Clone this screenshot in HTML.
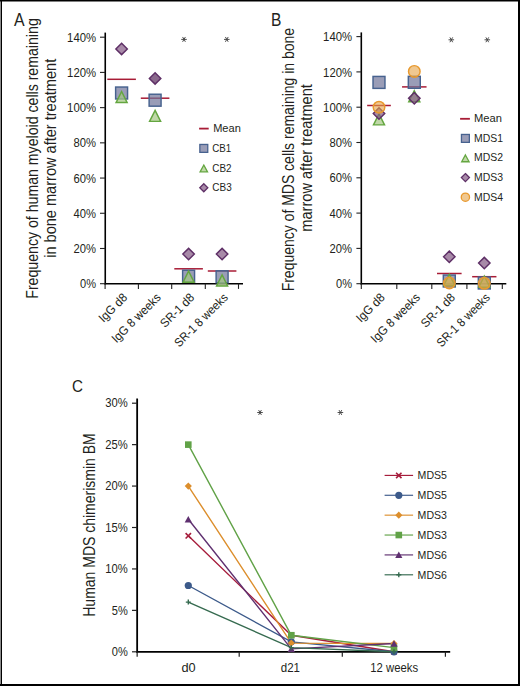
<!DOCTYPE html>
<html><head><meta charset="utf-8"><style>
html,body{margin:0;padding:0;background:#fff;}
body{width:520px;height:686px;overflow:hidden;position:relative;}
svg{position:absolute;left:0;top:0;}
text{font-family:"Liberation Sans", sans-serif;fill:#231f20;}
</style></head><body>
<svg width="520" height="686" viewBox="0 0 520 686">
<rect x="0" y="0" width="520" height="686" fill="#fff"/>
<line x1="105.25" y1="32.60" x2="105.25" y2="284.50" stroke="#000" stroke-width="1.6"/>
<line x1="104.45" y1="283.70" x2="243.00" y2="283.70" stroke="#000" stroke-width="1.6"/>
<line x1="100.00" y1="283.70" x2="105.25" y2="283.70" stroke="#222" stroke-width="1.1"/>
<text x="96.10" y="288.30" font-size="12.2" text-anchor="end"  textLength="16.0" lengthAdjust="spacingAndGlyphs">0%</text>
<line x1="100.00" y1="248.49" x2="105.25" y2="248.49" stroke="#222" stroke-width="1.1"/>
<text x="96.10" y="253.09" font-size="12.2" text-anchor="end"  textLength="22.5" lengthAdjust="spacingAndGlyphs">20%</text>
<line x1="100.00" y1="213.27" x2="105.25" y2="213.27" stroke="#222" stroke-width="1.1"/>
<text x="96.10" y="217.87" font-size="12.2" text-anchor="end"  textLength="22.5" lengthAdjust="spacingAndGlyphs">40%</text>
<line x1="100.00" y1="178.06" x2="105.25" y2="178.06" stroke="#222" stroke-width="1.1"/>
<text x="96.10" y="182.66" font-size="12.2" text-anchor="end"  textLength="22.5" lengthAdjust="spacingAndGlyphs">60%</text>
<line x1="100.00" y1="142.84" x2="105.25" y2="142.84" stroke="#222" stroke-width="1.1"/>
<text x="96.10" y="147.44" font-size="12.2" text-anchor="end"  textLength="22.5" lengthAdjust="spacingAndGlyphs">80%</text>
<line x1="100.00" y1="107.63" x2="105.25" y2="107.63" stroke="#222" stroke-width="1.1"/>
<text x="96.10" y="112.23" font-size="12.2" text-anchor="end"  textLength="29.0" lengthAdjust="spacingAndGlyphs">100%</text>
<line x1="100.00" y1="72.41" x2="105.25" y2="72.41" stroke="#222" stroke-width="1.1"/>
<text x="96.10" y="77.01" font-size="12.2" text-anchor="end"  textLength="29.0" lengthAdjust="spacingAndGlyphs">120%</text>
<line x1="100.00" y1="37.20" x2="105.25" y2="37.20" stroke="#222" stroke-width="1.1"/>
<text x="96.10" y="41.80" font-size="12.2" text-anchor="end"  textLength="29.0" lengthAdjust="spacingAndGlyphs">140%</text>
<line x1="105.10" y1="283.70" x2="105.10" y2="288.90" stroke="#222" stroke-width="1.1"/>
<line x1="138.40" y1="283.70" x2="138.40" y2="288.90" stroke="#222" stroke-width="1.1"/>
<line x1="171.70" y1="283.70" x2="171.70" y2="288.90" stroke="#222" stroke-width="1.1"/>
<line x1="205.30" y1="283.70" x2="205.30" y2="288.90" stroke="#222" stroke-width="1.1"/>
<line x1="238.50" y1="283.70" x2="238.50" y2="288.90" stroke="#222" stroke-width="1.1"/>
<text x="14.00" y="25.80" font-size="17.5" text-anchor="start"  textLength="10.6" lengthAdjust="spacingAndGlyphs">A</text>
<path d="M181.60 39.40 L186.40 39.40 M182.80 37.32 L185.20 41.48 M185.20 37.32 L182.80 41.48 " stroke="#444" stroke-width="0.95" stroke-linecap="round"/>
<path d="M224.40 39.40 L229.20 39.40 M225.60 37.32 L228.00 41.48 M228.00 37.32 L225.60 41.48 " stroke="#444" stroke-width="0.95" stroke-linecap="round"/>
<line x1="107.30" y1="79.30" x2="135.90" y2="79.30" stroke="#a81c36" stroke-width="1.5"/>
<rect x="115.62" y="87.03" width="11.95" height="11.95" fill="#6f7399" fill-opacity="0.7" stroke="#47628f" stroke-width="1.45"/>
<path d="M121.60 91.52 L127.13 102.58 L116.07 102.58 Z" fill="#a5c783" fill-opacity="0.7" stroke="#64a640" stroke-width="1.45" stroke-linejoin="miter"/>
<path d="M121.60 43.17 L127.33 48.90 L121.60 54.63 L115.87 48.90 Z" fill="#835883" fill-opacity="0.7" stroke="#5e2f66" stroke-width="1.45"/>
<line x1="140.80" y1="98.20" x2="169.40" y2="98.20" stroke="#a81c36" stroke-width="1.5"/>
<rect x="149.12" y="94.23" width="11.95" height="11.95" fill="#6f7399" fill-opacity="0.7" stroke="#47628f" stroke-width="1.45"/>
<path d="M155.10 110.32 L160.63 121.38 L149.57 121.38 Z" fill="#a5c783" fill-opacity="0.7" stroke="#64a640" stroke-width="1.45" stroke-linejoin="miter"/>
<path d="M155.10 72.67 L160.83 78.40 L155.10 84.13 L149.37 78.40 Z" fill="#582a5b" fill-opacity="0.7" stroke="#5e2f66" stroke-width="1.45"/>
<line x1="174.30" y1="268.80" x2="202.90" y2="268.80" stroke="#a81c36" stroke-width="1.5"/>
<rect x="182.62" y="270.22" width="11.95" height="11.95" fill="#6f7399" fill-opacity="0.7" stroke="#47628f" stroke-width="1.45"/>
<path d="M188.60 271.12 L194.13 282.17 L183.07 282.17 Z" fill="#a5c783" fill-opacity="0.7" stroke="#64a640" stroke-width="1.45" stroke-linejoin="miter"/>
<path d="M188.60 248.37 L194.33 254.10 L188.60 259.83 L182.87 254.10 Z" fill="#835883" fill-opacity="0.7" stroke="#5e2f66" stroke-width="1.45"/>
<line x1="207.80" y1="271.00" x2="236.40" y2="271.00" stroke="#a81c36" stroke-width="1.5"/>
<rect x="216.12" y="270.82" width="11.95" height="11.95" fill="#6f7399" fill-opacity="0.7" stroke="#47628f" stroke-width="1.45"/>
<path d="M222.10 274.92 L227.63 285.97 L216.57 285.97 Z" fill="#a5c783" fill-opacity="0.7" stroke="#64a640" stroke-width="1.45" stroke-linejoin="miter"/>
<path d="M222.10 248.37 L227.83 254.10 L222.10 259.83 L216.37 254.10 Z" fill="#835883" fill-opacity="0.7" stroke="#5e2f66" stroke-width="1.45"/>
<line x1="199.10" y1="128.60" x2="208.70" y2="128.60" stroke="#a81c36" stroke-width="1.8"/>
<text x="213.20" y="132.10" font-size="11.6" text-anchor="start"  textLength="27.6" lengthAdjust="spacingAndGlyphs">Mean</text>
<rect x="199.85" y="144.45" width="7.90" height="7.90" fill="#6f7399" fill-opacity="0.7" stroke="#47628f" stroke-width="1.3"/>
<text x="212.30" y="151.80" font-size="11.6" text-anchor="start"  textLength="19.0" lengthAdjust="spacingAndGlyphs">CB1</text>
<path d="M203.80 165.06 L207.51 171.85 L200.09 171.85 Z" fill="#a5c783" fill-opacity="0.7" stroke="#64a640" stroke-width="1.3" stroke-linejoin="miter"/>
<text x="212.30" y="171.60" font-size="11.6" text-anchor="start"  textLength="19.2" lengthAdjust="spacingAndGlyphs">CB2</text>
<path d="M203.80 183.68 L207.82 187.70 L203.80 191.72 L199.78 187.70 Z" fill="#835883" fill-opacity="0.7" stroke="#5e2f66" stroke-width="1.3"/>
<text x="212.30" y="191.30" font-size="11.6" text-anchor="start"  textLength="19.4" lengthAdjust="spacingAndGlyphs">CB3</text>
<text transform="translate(38.2 158.5) rotate(-90)" font-size="15.6" text-anchor="middle" textLength="280.5" lengthAdjust="spacingAndGlyphs">Frequency of human myeloid cells remaining</text>
<text transform="translate(55.7 158.3) rotate(-90)" font-size="15.6" text-anchor="middle" textLength="199" lengthAdjust="spacingAndGlyphs">in bone marrow after treatment</text>
<text transform="translate(128.10 298.3) rotate(-45)" font-size="12.2" text-anchor="end" textLength="34.8" lengthAdjust="spacingAndGlyphs">IgG d8</text>
<text transform="translate(161.60 298.3) rotate(-45)" font-size="12.2" text-anchor="end" textLength="63.9" lengthAdjust="spacingAndGlyphs">IgG 8 weeks</text>
<text transform="translate(195.10 298.3) rotate(-45)" font-size="12.2" text-anchor="end" textLength="42.4" lengthAdjust="spacingAndGlyphs">SR-1 d8</text>
<text transform="translate(228.60 298.3) rotate(-45)" font-size="12.2" text-anchor="end" textLength="69.8" lengthAdjust="spacingAndGlyphs">SR-1 8 weeks</text>
<line x1="361.30" y1="32.40" x2="361.30" y2="284.50" stroke="#000" stroke-width="1.6"/>
<line x1="360.50" y1="283.70" x2="506.30" y2="283.70" stroke="#000" stroke-width="1.6"/>
<line x1="356.40" y1="283.70" x2="361.30" y2="283.70" stroke="#222" stroke-width="1.1"/>
<text x="352.10" y="288.30" font-size="12.2" text-anchor="end"  textLength="16.0" lengthAdjust="spacingAndGlyphs">0%</text>
<line x1="356.40" y1="248.40" x2="361.30" y2="248.40" stroke="#222" stroke-width="1.1"/>
<text x="352.10" y="253.00" font-size="12.2" text-anchor="end"  textLength="22.5" lengthAdjust="spacingAndGlyphs">20%</text>
<line x1="356.40" y1="213.10" x2="361.30" y2="213.10" stroke="#222" stroke-width="1.1"/>
<text x="352.10" y="217.70" font-size="12.2" text-anchor="end"  textLength="22.5" lengthAdjust="spacingAndGlyphs">40%</text>
<line x1="356.40" y1="177.80" x2="361.30" y2="177.80" stroke="#222" stroke-width="1.1"/>
<text x="352.10" y="182.40" font-size="12.2" text-anchor="end"  textLength="22.5" lengthAdjust="spacingAndGlyphs">60%</text>
<line x1="356.40" y1="142.50" x2="361.30" y2="142.50" stroke="#222" stroke-width="1.1"/>
<text x="352.10" y="147.10" font-size="12.2" text-anchor="end"  textLength="22.5" lengthAdjust="spacingAndGlyphs">80%</text>
<line x1="356.40" y1="107.20" x2="361.30" y2="107.20" stroke="#222" stroke-width="1.1"/>
<text x="352.10" y="111.80" font-size="12.2" text-anchor="end"  textLength="29.0" lengthAdjust="spacingAndGlyphs">100%</text>
<line x1="356.40" y1="71.90" x2="361.30" y2="71.90" stroke="#222" stroke-width="1.1"/>
<text x="352.10" y="76.50" font-size="12.2" text-anchor="end"  textLength="29.0" lengthAdjust="spacingAndGlyphs">120%</text>
<line x1="356.40" y1="36.60" x2="361.30" y2="36.60" stroke="#222" stroke-width="1.1"/>
<text x="352.10" y="41.20" font-size="12.2" text-anchor="end"  textLength="29.0" lengthAdjust="spacingAndGlyphs">140%</text>
<line x1="361.30" y1="283.70" x2="361.30" y2="288.90" stroke="#222" stroke-width="1.1"/>
<line x1="396.80" y1="283.70" x2="396.80" y2="288.90" stroke="#222" stroke-width="1.1"/>
<line x1="431.80" y1="283.70" x2="431.80" y2="288.90" stroke="#222" stroke-width="1.1"/>
<line x1="466.90" y1="283.70" x2="466.90" y2="288.90" stroke="#222" stroke-width="1.1"/>
<line x1="502.30" y1="283.70" x2="502.30" y2="288.90" stroke="#222" stroke-width="1.1"/>
<text x="271.00" y="25.90" font-size="17.5" text-anchor="start"  textLength="10.4" lengthAdjust="spacingAndGlyphs">B</text>
<path d="M448.90 39.80 L453.70 39.80 M450.10 37.72 L452.50 41.88 M452.50 37.72 L450.10 41.88 " stroke="#444" stroke-width="0.95" stroke-linecap="round"/>
<path d="M484.90 39.80 L489.70 39.80 M486.10 37.72 L488.50 41.88 M488.50 37.72 L486.10 41.88 " stroke="#444" stroke-width="0.95" stroke-linecap="round"/>
<line x1="367.15" y1="105.50" x2="390.85" y2="105.50" stroke="#a81c36" stroke-width="1.5"/>
<rect x="373.02" y="76.43" width="11.95" height="11.95" fill="#6f7399" fill-opacity="0.7" stroke="#47628f" stroke-width="1.45"/>
<path d="M379.00 113.82 L384.53 124.88 L373.47 124.88 Z" fill="#a5c783" fill-opacity="0.7" stroke="#64a640" stroke-width="1.45" stroke-linejoin="miter"/>
<path d="M379.00 107.77 L384.73 113.50 L379.00 119.23 L373.27 113.50 Z" fill="#835883" fill-opacity="0.7" stroke="#5e2f66" stroke-width="1.45"/>
<circle cx="379.00" cy="107.20" r="5.78" fill="#e6a346" fill-opacity="0.6" stroke="#e8992e" stroke-width="1.45"/>
<line x1="402.05" y1="86.90" x2="426.55" y2="86.90" stroke="#a81c36" stroke-width="1.5"/>
<rect x="408.32" y="76.33" width="11.95" height="11.95" fill="#6f7399" fill-opacity="0.7" stroke="#47628f" stroke-width="1.45"/>
<path d="M414.30 90.72 L419.83 101.78 L408.77 101.78 Z" fill="#a5c783" fill-opacity="0.7" stroke="#64a640" stroke-width="1.45" stroke-linejoin="miter"/>
<path d="M414.30 92.47 L420.03 98.20 L414.30 103.93 L408.57 98.20 Z" fill="#835883" fill-opacity="0.7" stroke="#5e2f66" stroke-width="1.45"/>
<circle cx="414.30" cy="71.40" r="5.78" fill="#e6a346" fill-opacity="0.6" stroke="#e8992e" stroke-width="1.45"/>
<line x1="437.00" y1="273.50" x2="461.60" y2="273.50" stroke="#a81c36" stroke-width="1.5"/>
<rect x="443.32" y="275.02" width="11.95" height="11.95" fill="#6f7399" fill-opacity="0.7" stroke="#47628f" stroke-width="1.45"/>
<path d="M449.30 274.42 L454.83 285.47 L443.77 285.47 Z" fill="#a5c783" fill-opacity="0.7" stroke="#64a640" stroke-width="1.45" stroke-linejoin="miter"/>
<path d="M449.30 251.07 L455.03 256.80 L449.30 262.53 L443.57 256.80 Z" fill="#835883" fill-opacity="0.7" stroke="#5e2f66" stroke-width="1.45"/>
<circle cx="449.30" cy="283.00" r="5.78" fill="#e6a346" fill-opacity="0.6" stroke="#e8992e" stroke-width="1.45"/>
<line x1="472.15" y1="276.70" x2="496.45" y2="276.70" stroke="#a81c36" stroke-width="1.5"/>
<rect x="478.32" y="277.02" width="11.95" height="11.95" fill="#6f7399" fill-opacity="0.7" stroke="#47628f" stroke-width="1.45"/>
<path d="M484.30 276.12 L489.83 287.17 L478.77 287.17 Z" fill="#a5c783" fill-opacity="0.7" stroke="#64a640" stroke-width="1.45" stroke-linejoin="miter"/>
<path d="M484.30 257.37 L490.03 263.10 L484.30 268.83 L478.57 263.10 Z" fill="#835883" fill-opacity="0.7" stroke="#5e2f66" stroke-width="1.45"/>
<circle cx="484.30" cy="283.30" r="5.78" fill="#e6a346" fill-opacity="0.6" stroke="#e8992e" stroke-width="1.45"/>
<line x1="460.10" y1="118.80" x2="469.90" y2="118.80" stroke="#a81c36" stroke-width="1.8"/>
<text x="474.00" y="122.00" font-size="11.6" text-anchor="start"  textLength="27.9" lengthAdjust="spacingAndGlyphs">Mean</text>
<rect x="461.45" y="134.45" width="7.90" height="7.90" fill="#6f7399" fill-opacity="0.7" stroke="#47628f" stroke-width="1.3"/>
<text x="474.00" y="141.80" font-size="11.6" text-anchor="start"  textLength="29.0" lengthAdjust="spacingAndGlyphs">MDS1</text>
<path d="M465.40 154.96 L469.11 161.75 L461.69 161.75 Z" fill="#a5c783" fill-opacity="0.7" stroke="#64a640" stroke-width="1.3" stroke-linejoin="miter"/>
<text x="474.00" y="161.40" font-size="11.6" text-anchor="start"  textLength="29.0" lengthAdjust="spacingAndGlyphs">MDS2</text>
<path d="M465.40 173.58 L469.42 177.60 L465.40 181.62 L461.38 177.60 Z" fill="#835883" fill-opacity="0.7" stroke="#5e2f66" stroke-width="1.3"/>
<text x="474.00" y="181.00" font-size="11.6" text-anchor="start"  textLength="29.0" lengthAdjust="spacingAndGlyphs">MDS3</text>
<circle cx="465.40" cy="197.20" r="4.15" fill="#e6a346" fill-opacity="0.6" stroke="#e8992e" stroke-width="1.3"/>
<text x="474.00" y="200.60" font-size="11.6" text-anchor="start"  textLength="29.0" lengthAdjust="spacingAndGlyphs">MDS4</text>
<text transform="translate(293.9 159.6) rotate(-90)" font-size="15.6" text-anchor="middle" textLength="263.5" lengthAdjust="spacingAndGlyphs">Frequency of MDS cells remaining in bone</text>
<text transform="translate(312.1 157.9) rotate(-90)" font-size="15.6" text-anchor="middle" textLength="147.5" lengthAdjust="spacingAndGlyphs">marrow after treatment</text>
<text transform="translate(385.50 298.3) rotate(-45)" font-size="12.2" text-anchor="end" textLength="34.8" lengthAdjust="spacingAndGlyphs">IgG d8</text>
<text transform="translate(420.80 298.3) rotate(-45)" font-size="12.2" text-anchor="end" textLength="63.9" lengthAdjust="spacingAndGlyphs">IgG 8 weeks</text>
<text transform="translate(455.80 298.3) rotate(-45)" font-size="12.2" text-anchor="end" textLength="42.4" lengthAdjust="spacingAndGlyphs">SR-1 d8</text>
<text transform="translate(490.80 298.3) rotate(-45)" font-size="12.2" text-anchor="end" textLength="69.8" lengthAdjust="spacingAndGlyphs">SR-1 8 weeks</text>
<line x1="137.15" y1="398.50" x2="137.15" y2="652.70" stroke="#000" stroke-width="1.8"/>
<line x1="136.25" y1="651.80" x2="450.20" y2="651.80" stroke="#000" stroke-width="1.8"/>
<line x1="132.00" y1="651.80" x2="137.15" y2="651.80" stroke="#222" stroke-width="1.2"/>
<text x="127.80" y="656.00" font-size="12.2" text-anchor="end"  textLength="16.0" lengthAdjust="spacingAndGlyphs">0%</text>
<line x1="132.00" y1="610.37" x2="137.15" y2="610.37" stroke="#222" stroke-width="1.2"/>
<text x="127.80" y="614.57" font-size="12.2" text-anchor="end"  textLength="16.0" lengthAdjust="spacingAndGlyphs">5%</text>
<line x1="132.00" y1="568.93" x2="137.15" y2="568.93" stroke="#222" stroke-width="1.2"/>
<text x="127.80" y="573.13" font-size="12.2" text-anchor="end"  textLength="22.5" lengthAdjust="spacingAndGlyphs">10%</text>
<line x1="132.00" y1="527.50" x2="137.15" y2="527.50" stroke="#222" stroke-width="1.2"/>
<text x="127.80" y="531.70" font-size="12.2" text-anchor="end"  textLength="22.5" lengthAdjust="spacingAndGlyphs">15%</text>
<line x1="132.00" y1="486.07" x2="137.15" y2="486.07" stroke="#222" stroke-width="1.2"/>
<text x="127.80" y="490.27" font-size="12.2" text-anchor="end"  textLength="22.5" lengthAdjust="spacingAndGlyphs">20%</text>
<line x1="132.00" y1="444.63" x2="137.15" y2="444.63" stroke="#222" stroke-width="1.2"/>
<text x="127.80" y="448.83" font-size="12.2" text-anchor="end"  textLength="22.5" lengthAdjust="spacingAndGlyphs">25%</text>
<line x1="132.00" y1="403.20" x2="137.15" y2="403.20" stroke="#222" stroke-width="1.2"/>
<text x="127.80" y="407.40" font-size="12.2" text-anchor="end"  textLength="22.5" lengthAdjust="spacingAndGlyphs">30%</text>
<line x1="137.15" y1="651.80" x2="137.15" y2="656.80" stroke="#222" stroke-width="1.2"/>
<line x1="239.20" y1="651.80" x2="239.20" y2="656.80" stroke="#222" stroke-width="1.2"/>
<line x1="342.30" y1="651.80" x2="342.30" y2="656.80" stroke="#222" stroke-width="1.2"/>
<line x1="445.40" y1="651.80" x2="445.40" y2="656.80" stroke="#222" stroke-width="1.2"/>
<text x="72.00" y="391.80" font-size="17.0" text-anchor="start"  textLength="11.0" lengthAdjust="spacingAndGlyphs">C</text>
<path d="M257.60 412.50 L262.40 412.50 M258.80 410.42 L261.20 414.58 M261.20 410.42 L258.80 414.58 " stroke="#444" stroke-width="0.95" stroke-linecap="round"/>
<path d="M338.00 412.50 L342.80 412.50 M339.20 410.42 L341.60 414.58 M341.60 410.42 L339.20 414.58 " stroke="#444" stroke-width="0.95" stroke-linecap="round"/>
<text x="188.50" y="672.00" font-size="12.3" text-anchor="middle"  textLength="14.2" lengthAdjust="spacingAndGlyphs">d0</text>
<text x="290.40" y="672.00" font-size="12.3" text-anchor="middle"  textLength="19.2" lengthAdjust="spacingAndGlyphs">d21</text>
<text x="394.20" y="672.00" font-size="12.3" text-anchor="middle"  textLength="47.8" lengthAdjust="spacingAndGlyphs">12 weeks</text>
<text transform="translate(95 525) rotate(-90)" font-size="15.6" text-anchor="middle" textLength="183.5" lengthAdjust="spacingAndGlyphs">Human MDS chimerismin BM</text>
<polyline points="188.30,535.79 291.30,635.23 394.00,651.80" fill="none" stroke="#a61d3c" stroke-width="1.4"/>
<polyline points="188.30,585.51 291.30,641.86 394.00,651.80" fill="none" stroke="#3c5a8a" stroke-width="1.4"/>
<polyline points="188.30,486.07 291.30,643.10 394.00,643.51" fill="none" stroke="#dc8e2c" stroke-width="1.4"/>
<polyline points="188.30,444.63 291.30,635.23 394.00,647.66" fill="none" stroke="#61a247" stroke-width="1.4"/>
<polyline points="188.30,519.21 291.30,648.90 394.00,643.51" fill="none" stroke="#5f3070" stroke-width="1.4"/>
<polyline points="188.30,602.08 291.30,647.66 394.00,651.80" fill="none" stroke="#356a4f" stroke-width="1.4"/>
<path d="M185.60 533.09 L191.00 538.49 M191.00 533.09 L185.60 538.49" stroke="#a61d3c" stroke-width="1.6"/>
<path d="M288.60 632.53 L294.00 637.93 M294.00 632.53 L288.60 637.93" stroke="#a61d3c" stroke-width="1.6"/>
<path d="M391.30 649.10 L396.70 654.50 M396.70 649.10 L391.30 654.50" stroke="#a61d3c" stroke-width="1.6"/>
<circle cx="188.30" cy="585.51" r="3.6" fill="#3c5a8a"/>
<circle cx="291.30" cy="641.86" r="3.6" fill="#3c5a8a"/>
<circle cx="394.00" cy="651.80" r="3.6" fill="#3c5a8a"/>
<path d="M188.30 482.47 L191.90 486.07 L188.30 489.67 L184.70 486.07 Z" fill="#dc8e2c"/>
<path d="M291.30 639.50 L294.90 643.10 L291.30 646.70 L287.70 643.10 Z" fill="#dc8e2c"/>
<path d="M394.00 639.91 L397.60 643.51 L394.00 647.11 L390.40 643.51 Z" fill="#dc8e2c"/>
<rect x="185.00" y="441.33" width="6.60" height="6.60" fill="#61a247"/>
<rect x="288.00" y="631.93" width="6.60" height="6.60" fill="#61a247"/>
<rect x="390.70" y="644.36" width="6.60" height="6.60" fill="#61a247"/>
<path d="M188.30 515.91 L191.90 522.41 L184.70 522.41 Z" fill="#5f3070"/>
<path d="M291.30 645.60 L294.90 652.10 L287.70 652.10 Z" fill="#5f3070"/>
<path d="M394.00 640.21 L397.60 646.71 L390.40 646.71 Z" fill="#5f3070"/>
<path d="M185.80 602.08 L190.80 602.08 M188.30 599.58 L188.30 604.58" stroke="#356a4f" stroke-width="1.4"/>
<path d="M288.80 647.66 L293.80 647.66 M291.30 645.16 L291.30 650.16" stroke="#356a4f" stroke-width="1.4"/>
<path d="M391.50 651.80 L396.50 651.80 M394.00 649.30 L394.00 654.30" stroke="#356a4f" stroke-width="1.4"/>
<line x1="384.60" y1="475.40" x2="413.10" y2="475.40" stroke="#a61d3c" stroke-width="1.15"/>
<path d="M396.10 472.70 L401.50 478.10 M401.50 472.70 L396.10 478.10" stroke="#a61d3c" stroke-width="1.6"/>
<text x="417.60" y="479.30" font-size="11.6" text-anchor="start"  textLength="29.4" lengthAdjust="spacingAndGlyphs">MDS5</text>
<line x1="384.60" y1="495.28" x2="413.10" y2="495.28" stroke="#3c5a8a" stroke-width="1.15"/>
<circle cx="398.80" cy="495.28" r="3.6" fill="#3c5a8a"/>
<text x="417.60" y="499.18" font-size="11.6" text-anchor="start"  textLength="29.4" lengthAdjust="spacingAndGlyphs">MDS5</text>
<line x1="384.60" y1="515.16" x2="413.10" y2="515.16" stroke="#dc8e2c" stroke-width="1.15"/>
<path d="M398.80 511.56 L402.40 515.16 L398.80 518.76 L395.20 515.16 Z" fill="#dc8e2c"/>
<text x="417.60" y="519.06" font-size="11.6" text-anchor="start"  textLength="29.4" lengthAdjust="spacingAndGlyphs">MDS3</text>
<line x1="384.60" y1="535.04" x2="413.10" y2="535.04" stroke="#61a247" stroke-width="1.15"/>
<rect x="395.50" y="531.74" width="6.60" height="6.60" fill="#61a247"/>
<text x="417.60" y="538.94" font-size="11.6" text-anchor="start"  textLength="29.4" lengthAdjust="spacingAndGlyphs">MDS3</text>
<line x1="384.60" y1="554.92" x2="413.10" y2="554.92" stroke="#5f3070" stroke-width="1.15"/>
<path d="M398.80 551.62 L402.40 558.12 L395.20 558.12 Z" fill="#5f3070"/>
<text x="417.60" y="558.82" font-size="11.6" text-anchor="start"  textLength="29.4" lengthAdjust="spacingAndGlyphs">MDS6</text>
<line x1="384.60" y1="574.80" x2="413.10" y2="574.80" stroke="#356a4f" stroke-width="1.15"/>
<path d="M396.30 574.80 L401.30 574.80 M398.80 572.30 L398.80 577.30" stroke="#356a4f" stroke-width="1.4"/>
<text x="417.60" y="578.70" font-size="11.6" text-anchor="start"  textLength="29.4" lengthAdjust="spacingAndGlyphs">MDS6</text>
<rect x="0" y="0" width="1" height="686" fill="#8c8c8c"/>
<rect x="1" y="0" width="1" height="686" fill="#000"/>
<rect x="0" y="0" width="520" height="1.5" fill="#000"/>
<rect x="518" y="0" width="2" height="686" fill="#000"/>
<rect x="0" y="684" width="520" height="2" fill="#000"/>
</svg>
</body></html>
